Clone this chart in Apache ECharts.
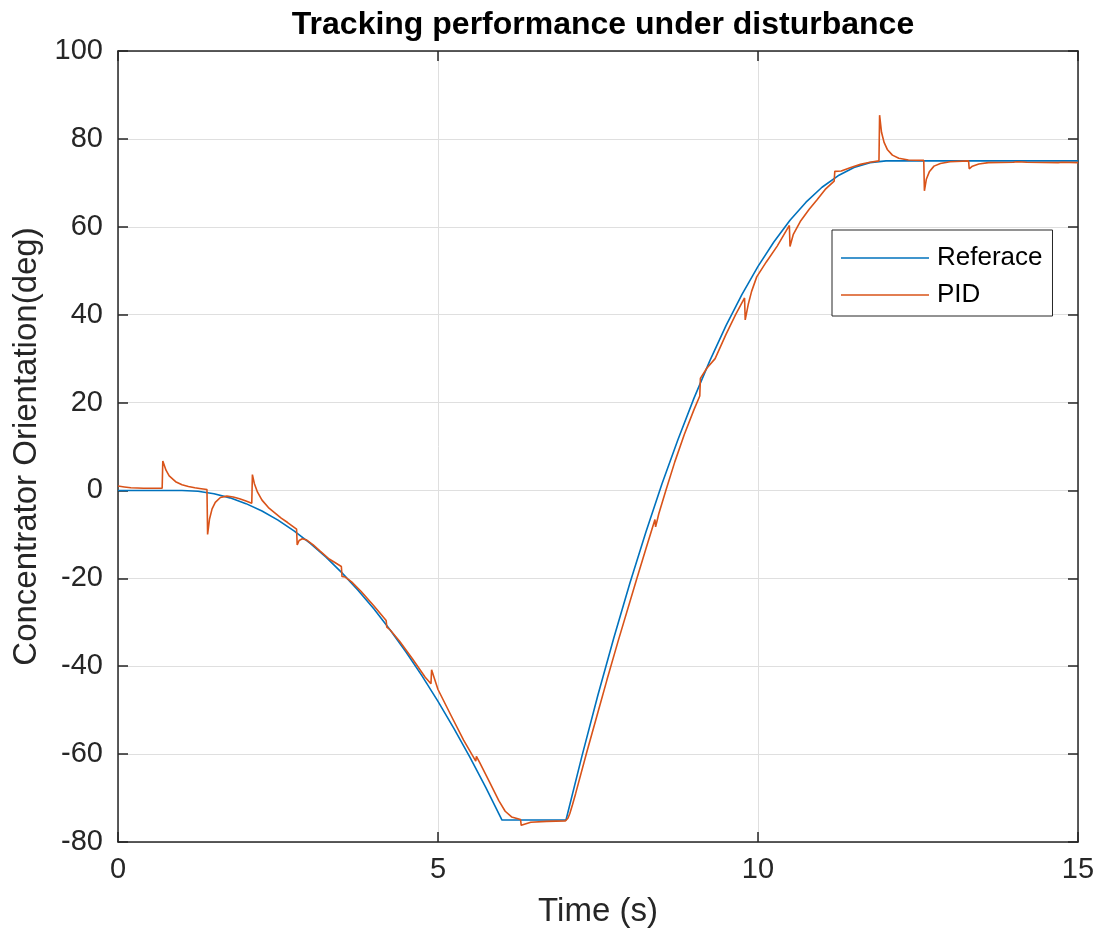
<!DOCTYPE html>
<html>
<head>
<meta charset="utf-8">
<script src="https://cdn.jsdelivr.net/npm/echarts@6/dist/echarts.min.js"></script>
<style>
  html, body { margin: 0; padding: 0; background: #fff; }
  #chart { width: 1099px; height: 938px; }
</style>
</head>
<body>
<div id="chart"></div>
<script>
// reference trajectory
const refT = [0, 1, 1.25, 1.5, 1.75, 2, 2.25, 2.5, 2.75, 3, 3.25, 3.5, 3.75, 4, 4.25, 4.5, 4.75, 5, 5.25, 5.5, 5.75, 6,
  7, 7.25, 7.5, 7.75, 8, 8.25, 8.5, 8.75, 9, 9.25, 9.5, 9.75, 10, 10.25, 10.5, 10.75, 11, 11.25, 11.5, 11.75, 12, 15];
const refV = [0, 0, -0.19, -0.75, -1.69, -3.0, -4.69, -6.75, -9.19, -12.0, -15.19, -18.75, -22.69, -27.0, -31.69, -36.75, -42.19, -48.0, -54.19, -60.75, -67.69, -75,
  -75, -60.4, -46.5, -33.4, -21.0, -9.4, 1.5, 11.6, 21.0, 29.6, 37.5, 44.6, 51.0, 56.6, 61.5, 65.6, 69.0, 71.6, 73.5, 74.6, 75, 75];

// PID response with disturbances
const pidT = [0, 0.1, 0.2, 0.4, 0.69, 0.7, 0.75, 0.8, 0.9, 1.0, 1.1, 1.2, 1.3, 1.39, 1.4, 1.43, 1.47, 1.52, 1.6, 1.7, 1.8, 1.9, 2.0, 2.09,
  2.1, 2.13, 2.18, 2.25, 2.35, 2.45, 2.55, 2.65, 2.79, 2.8, 2.83, 2.88, 2.95, 3.05, 3.15, 3.3, 3.49, 3.5, 3.55, 3.65, 3.8, 4.0, 4.19,
  4.2, 4.25, 4.4, 4.6, 4.8, 4.89, 4.9, 4.94, 5.0, 5.2, 5.4, 5.59, 5.6, 5.65, 5.8, 5.95, 6.05, 6.15, 6.29, 6.3, 6.33, 6.45, 6.7, 6.99,
  7.03, 7.06, 7.1, 7.15, 7.32, 7.5, 7.64, 7.82, 8.1, 8.25, 8.39, 8.4, 8.45, 8.56, 8.7, 8.85, 9.0, 9.09, 9.1, 9.2, 9.33, 9.5, 9.65, 9.79,
  9.8, 9.85, 9.9, 9.98, 10.13, 10.3, 10.49, 10.5, 10.55, 10.66, 10.8, 10.92, 11.05, 11.19, 11.2, 11.3, 11.45, 11.6, 11.75, 11.89,
  11.9, 11.93, 11.97, 12.02, 12.1, 12.2, 12.35, 12.59, 12.6, 12.63, 12.68, 12.75, 12.85, 13.0, 13.29, 13.3, 13.35, 13.45, 13.6, 13.99,
  14.0, 14.05, 14.2, 14.69, 14.7, 14.75, 15];
const pidV = [1.0, 0.8, 0.6, 0.5, 0.5, 6.7, 4.6, 3.3, 2.0, 1.3, 0.9, 0.6, 0.4, 0.2, -10.0, -6.5, -4.2, -2.7, -1.6, -1.3, -1.5, -1.9, -2.4, -2.9,
  3.6, 1.6, -0.4, -2.2, -3.9, -5.1, -6.3, -7.3, -8.8, -12.4, -11.4, -11.0, -11.3, -12.4, -13.7, -15.6, -17.3, -19.6, -19.7, -20.8, -23.0, -26.3, -29.6,
  -31.1, -31.7, -34.3, -38.3, -42.5, -44.0, -40.8, -42.6, -45.3, -51.1, -56.8, -61.6, -60.5, -61.9, -66.2, -70.6, -73.0, -74.3, -74.9, -76.2, -75.8, -75.5, -75.3, -75.2,
  -74.6, -73.5, -71.6, -69.0, -59.8, -50.4, -43.1, -34.0, -20.4, -13.2, -6.6, -8.3, -5.3, 0, 6.5, 12.8, 18.4, 21.5, 25.5, 27.8, 30.0, 35.5, 40.0, 43.8,
  38.8, 42.5, 45.3, 48.6, 52.0, 55.6, 60.3, 55.5, 58.2, 61.2, 64.0, 66.1, 68.5, 70.4, 72.6, 72.7, 73.5, 74.2, 74.7, 75.0,
  85.4, 81.5, 79.2, 77.6, 76.3, 75.6, 75.2, 75.1, 68.2, 70.8, 72.6, 73.8, 74.4, 74.8, 75.0, 73.2, 73.8, 74.3, 74.6, 74.7,
  75.0, 74.8, 74.7, 74.6, 74.9, 74.7, 74.6];

const xTicks = [0, 5, 10, 15];
const yTicks = [-80, -60, -40, -20, 0, 20, 40, 60, 80, 100];

let myChart = echarts.init(document.getElementById('chart'));

const axisColor = '#262626';
const font = 'Liberation Sans, Arial, Helvetica, sans-serif';

// box style axis (MATLAB like), ticks pointing inwards
function boxAxis (extra) {
  return Object.assign({
    type: 'value',
    axisLine: { show: true, onZero: false, lineStyle: { color: axisColor, width: 1.5 } },
    axisTick: { show: true, inside: true, length: 10, lineStyle: { color: axisColor, width: 1.5 } },
    axisLabel: { show: false },
    splitLine: { show: false }
  }, extra);
}

myChart.setOption({
  animation: false,
  backgroundColor: '#fff',
  title: {
    text: 'Tracking performance under disturbance',
    left: 598,
    textAlign: 'center',
    top: 4,
    textStyle: { fontFamily: font, fontSize: 32, fontWeight: 'bold', color: '#000' }
  },
  grid: { left: 118, top: 51, right: 21, bottom: 96 },
  legend: {
    orient: 'vertical',
    left: 832,
    top: 230,
    padding: [15, 10, 8, 9],
    icon: 'rect',
    itemWidth: 88,
    itemHeight: 1.6,
    itemGap: 11,
    backgroundColor: '#fff',
    borderColor: axisColor,
    borderWidth: 1,
    borderRadius: 0,
    data: ['Referace', 'PID'],
    textStyle: { fontFamily: font, fontSize: 26, lineHeight: 26, color: '#000', padding: [0, 0, 0, 3] }
  },
  xAxis: [
    boxAxis({
      min: xTicks[0],
      max: xTicks[xTicks.length - 1],
      interval: 5,
      name: 'Time (s)',
      nameLocation: 'middle',
      nameGap: 53,
      nameTextStyle: { fontFamily: font, fontSize: 33, color: axisColor },
      axisLabel: { show: true, fontFamily: font, fontSize: 29, color: axisColor, margin: 13 },
      splitLine: { show: true, lineStyle: { color: '#dfdfdf', width: 1 } }
    }),
    boxAxis({ position: 'top', min: xTicks[0], max: xTicks[xTicks.length - 1], interval: 5 })
  ],
  yAxis: [
    boxAxis({
      min: yTicks[0],
      max: yTicks[yTicks.length - 1],
      interval: 20,
      name: 'Concentrator Orientation(deg)',
      nameLocation: 'middle',
      nameGap: 75,
      nameTextStyle: { fontFamily: font, fontSize: 33, color: axisColor },
      axisLabel: { show: true, fontFamily: font, fontSize: 29, color: axisColor, margin: 15 },
      splitLine: { show: true, lineStyle: { color: '#dfdfdf', width: 1 } }
    }),
    boxAxis({ position: 'right', min: yTicks[0], max: yTicks[yTicks.length - 1], interval: 20 })
  ],
  series: [{
    name: 'Referace',
    type: 'line',
    symbol: 'none',
    data: refT.map((t, i) => [t, refV[i]]),
    lineStyle: { color: '#0072BD', width: 1.6 },
    itemStyle: { color: '#0072BD' },
    z: 3
  }, {
    name: 'PID',
    type: 'line',
    symbol: 'none',
    data: pidT.map((t, i) => [t, pidV[i]]),
    lineStyle: { color: '#D95319', width: 1.6 },
    itemStyle: { color: '#D95319' },
    z: 4
  }]
});
window.addEventListener('resize', function () { myChart.resize(); });
</script>
</body>
</html>
